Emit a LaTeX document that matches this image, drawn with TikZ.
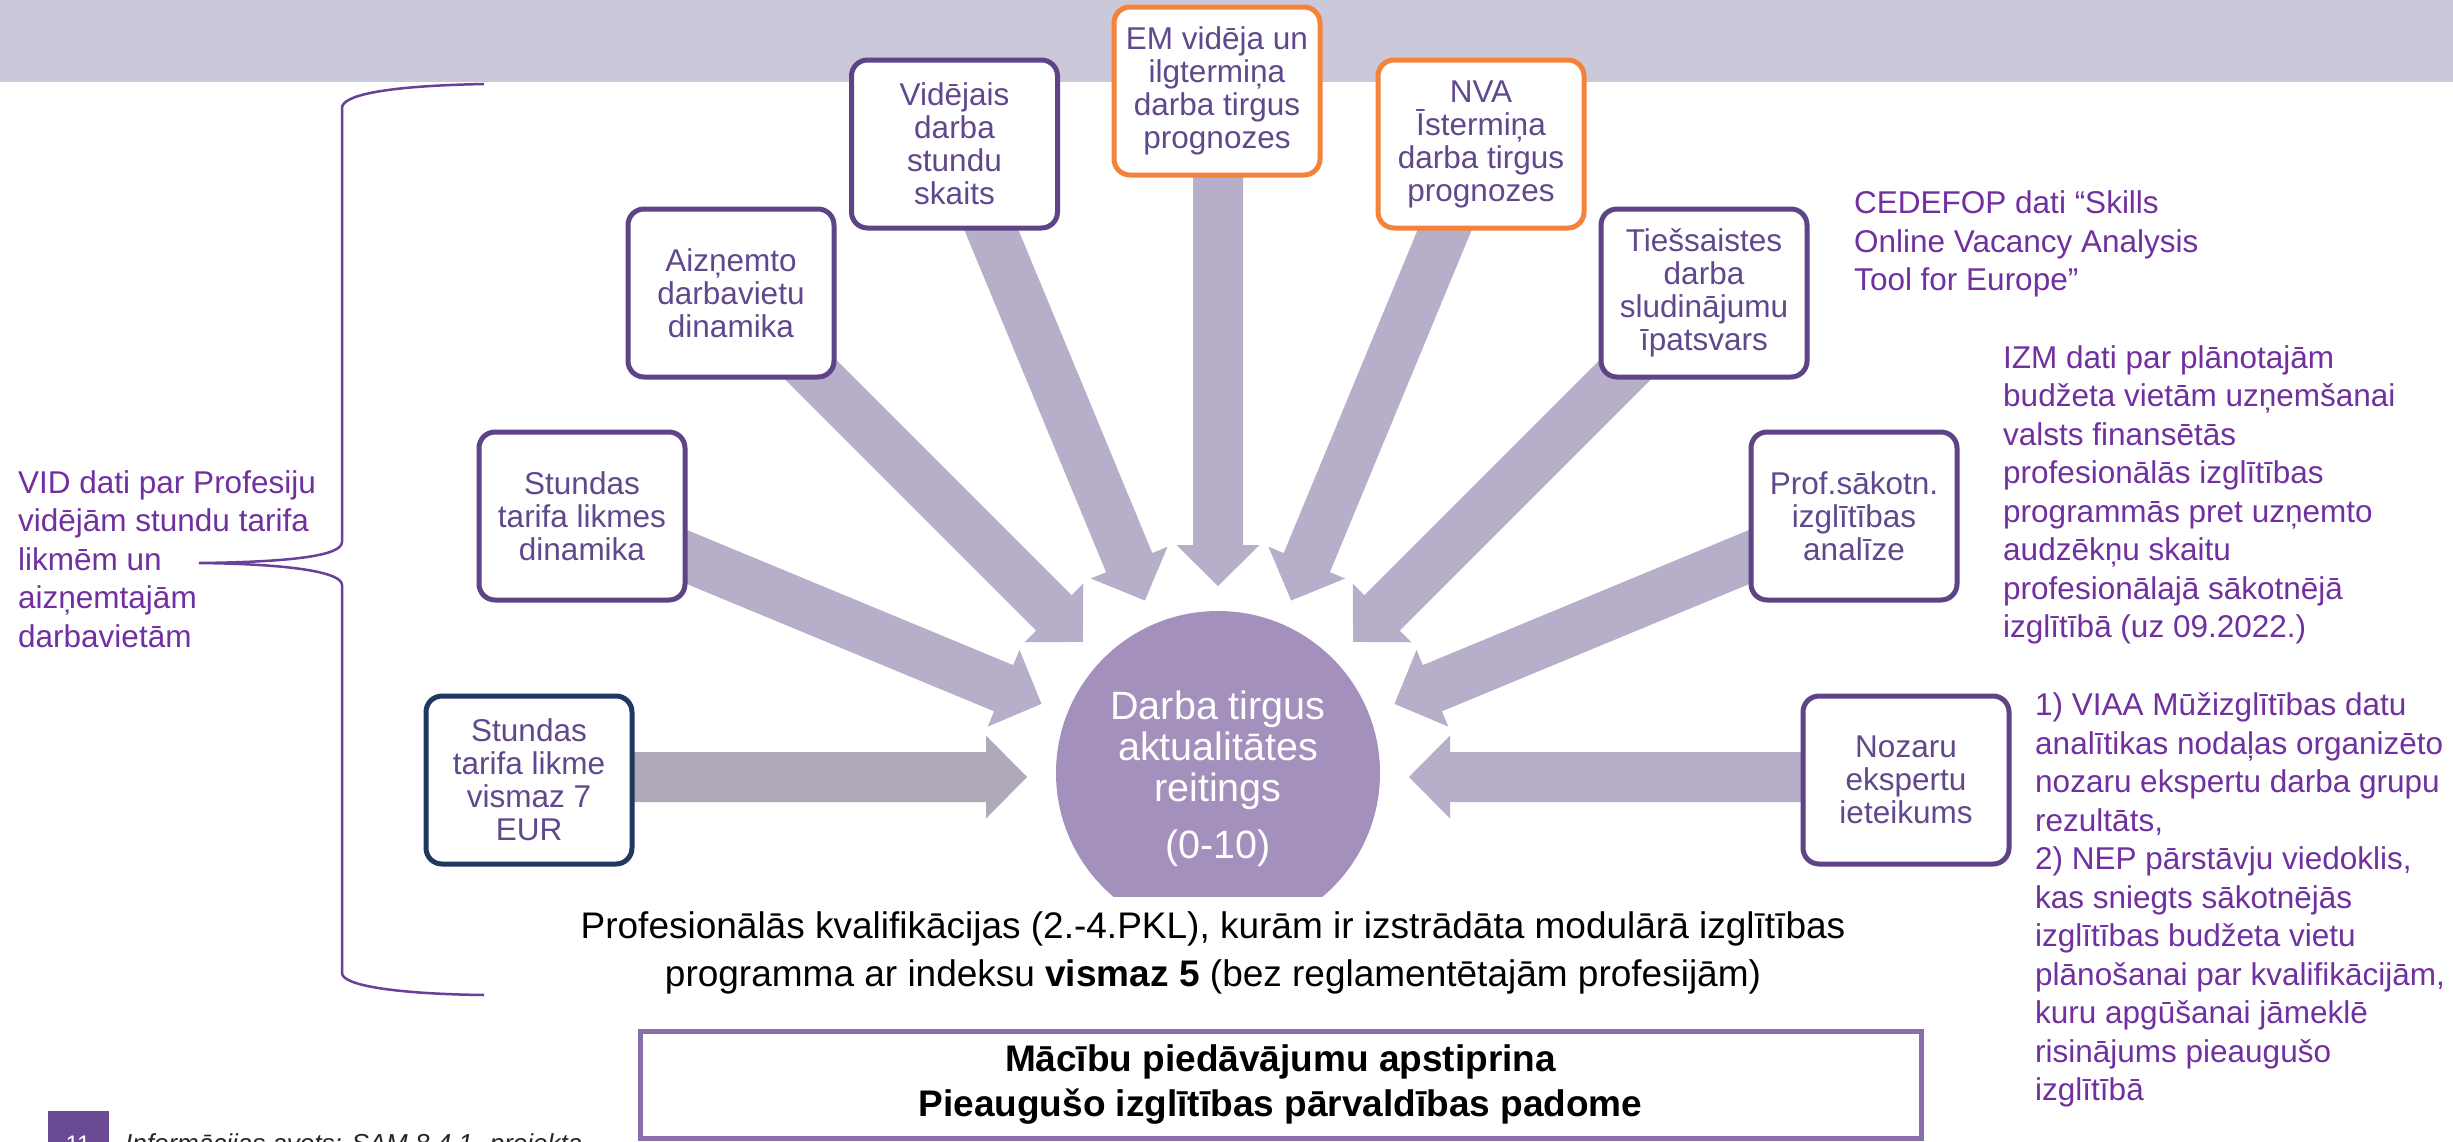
\documentclass[tikz,border=0pt]{standalone}
\usepackage{fontspec}
\setmainfont{Liberation Sans}
\usetikzlibrary{calc}
\definecolor{bandc}{HTML}{CBC8DA}
\definecolor{boxborder}{HTML}{5E4387}
\definecolor{boxtext}{HTML}{61478C}
\definecolor{sidetext}{HTML}{7030A0}
\definecolor{orangeb}{HTML}{F5823A}
\definecolor{navyb}{HTML}{1F3860}
\definecolor{arrowc}{HTML}{B7AEC9}
\definecolor{arrowg}{HTML}{AFA9B9}
\definecolor{circlec}{HTML}{A390BC}
\definecolor{bottomb}{HTML}{8A6DAB}
\definecolor{pagec}{HTML}{694A93}
\definecolor{bracec}{HTML}{6A3F9B}
\newcommand\boxfont{\fontsize{31.5}{33}\selectfont}
\newcommand\sidefont{\fontsize{31.5}{38.5}\selectfont}
\newcommand\circfont{\fontsize{39.5}{41}\selectfont}
\newcommand\blockarrow[3]{%
  \coordinate (H) at ($(#2)!41pt!(#1)$);
  \fill[#3] ($(#1)!25pt!90:(#2)$) -- ($(H)!25pt!-90:(#1)$) -- ($(H)!41.5pt!-90:(#1)$) -- (#2)
    -- ($(H)!41.5pt!90:(#1)$) -- ($(H)!25pt!90:(#1)$) -- ($(#1)!25pt!-90:(#2)$) -- cycle;}
\tikzset{
  box/.style={draw=boxborder, line width=5pt, fill=white, rounded corners=16pt,
    minimum width=206pt, minimum height=168pt, inner sep=0pt, align=center,
    text=boxtext, font=\boxfont},
  obox/.style={box, draw=orangeb},
  nbox/.style={box, draw=navyb},
  side/.style={anchor=west, align=left, text=sidetext, inner sep=0pt, font=\sidefont},
}
\begin{document}
\begin{tikzpicture}[x=1pt,y=-1pt]
\useasboundingbox (0,0) rectangle (2453,1141);
\clip (0,0) rectangle (2453,1141);
\fill[white] (0,0) rectangle (2453,1141);
% top band
\fill[bandc] (0,0) rectangle (2453,82);

% arrow tips and tails
\coordinate (t0) at (1409,777);     \coordinate (s0) at (1838,777);
\coordinate (t1) at (1394.5,703.9); \coordinate (s1) at (1772.3,547.4);
\coordinate (t2) at (1353.1,641.9); \coordinate (s2) at (1642.3,352.7);
\coordinate (t3) at (1291.1,600.5); \coordinate (s3) at (1459.1,195);
\coordinate (t4) at (1218,586);     \coordinate (s4) at (1218,150);
\coordinate (t5) at (1144.9,600.5); \coordinate (s5) at (976.9,195);
\coordinate (t6) at (1082.9,641.9); \coordinate (s6) at (793.7,352.7);
\coordinate (t7) at (1041.5,703.9); \coordinate (s7) at (663.7,547.4);
\coordinate (t8) at (1027,777);     \coordinate (s8) at (598,777);

\blockarrow{s0}{t0}{arrowc}
\blockarrow{s1}{t1}{arrowc}
\blockarrow{s2}{t2}{arrowc}
\blockarrow{s3}{t3}{arrowc}
\blockarrow{s4}{t4}{arrowc}
\blockarrow{s5}{t5}{arrowc}
\blockarrow{s6}{t6}{arrowc}
\blockarrow{s7}{t7}{arrowc}
\blockarrow{s8}{t8}{arrowg}

% central circle
\begin{scope}
  \clip (0,0) rectangle (2453,896);
  \node[circle, fill=circlec, minimum size=324pt, inner sep=0pt] (rating) at (1218,773) {};
\end{scope}
\node[text=white, align=center, font=\circfont, inner sep=0pt] (rtext) at (1218,750) {Darba tirgus\\aktualitātes\\reitings};
\node[text=white, font=\circfont, inner sep=0pt] (rnum) at (1218,848) {(0-10)};

% boxes
\node[box]  (vid)  at (954.5,144) {Vidējais\\darba\\stundu\\skaits};
\node[obox] (em)   at (1217,91)   {EM vidēja un\\ilgtermiņa\\darba tirgus\\prognozes};
\node[obox] (nva)  at (1481,144)  {NVA\\Īstermiņa\\darba tirgus\\prognozes};
\node[box]  (aiz)  at (731,293)   {Aizņemto\\darbavietu\\dinamika};
\node[box]  (ties) at (1704,293)  {Tiešsaistes\\darba\\sludinājumu\\īpatsvars};
\node[box]  (sdin) at (582,516)   {Stundas\\tarifa likmes\\dinamika};
\node[box]  (prof) at (1854,516)  {Prof.sākotn.\\izglītības\\analīze};
\node[nbox] (vis)  at (529,780)   {Stundas\\tarifa likme\\vismaz 7\\EUR};
\node[box]  (noz)  at (1906,780)  {Nozaru\\ekspertu\\ieteikums};

% side texts
\node[side] (cedefop) at (1854,244) {CEDEFOP dati “Skills\\Online Vacancy Analysis\\Tool for Europe”};
\node[side] (izm) at (2003,495) {IZM dati par plānotajām\\budžeta vietām uzņemšanai\\valsts finansētās\\profesionālās izglītības\\programmās pret uzņemto\\audzēkņu skaitu\\profesionālajā sākotnējā\\izglītībā (uz 09.2022.)};
\node[side] (viaa) at (2035,900) {1) VIAA Mūžizglītības datu\\analītikas nodaļas organizēto\\nozaru ekspertu darba grupu\\rezultāts,\\2) NEP pārstāvju viedoklis,\\kas sniegts sākotnējās\\izglītības budžeta vietu\\plānošanai par kvalifikācijām,\\kuru apgūšanai jāmeklē\\risinājums pieaugušo\\izglītībā};
\node[side] (vidtext) at (18,559) {VID dati par Profesiju\\vidējām stundu tarifa\\likmēm un\\aizņemtajām\\darbavietām};

% brace
\draw[bracec, line width=2.5pt] (484,84) .. controls (380,86) and (342,96) .. (342,108)
  -- (342,542) .. controls (342,556) and (290,562) .. (199,563)
  .. controls (290,564) and (342,572) .. (342,585)
  -- (342,973) .. controls (342,986) and (400,994) .. (484,995);

% bottom texts
\node[align=center, font=\fontsize{37}{48}\selectfont, inner sep=0pt] (pkl) at (1213,953)
  {Profesionālās kvalifikācijas (2.-4.PKL), kurām ir izstrādāta modulārā izglītības\\programma ar indeksu \textbf{vismaz 5} (bez reglamentētajām profesijām)};
\node[draw=bottomb, line width=5pt, minimum width=1281pt, minimum height=107pt, inner sep=0pt,
  align=center, font=\bfseries\fontsize{37}{45}\selectfont] (padome) at (1280.5,1084.5)
  {Mācību piedāvājumu apstiprina\\Pieaugušo izglītības pārvaldības padome};

% footer
\node[fill=pagec, minimum width=61pt, minimum height=40pt, inner sep=0pt, anchor=north west] (pg) at (48,1111) {};
\node[text=white, font=\fontsize{24}{24}\selectfont, inner sep=0pt] (pgnum) at (78,1144) {11};
\node[anchor=base west, inner sep=0pt, text=black!85, font=\itshape\fontsize{26}{26}\selectfont] (src) at (125,1152) {Informācijas avots: SAM 8.4.1. projekta};
\end{tikzpicture}
\end{document}
